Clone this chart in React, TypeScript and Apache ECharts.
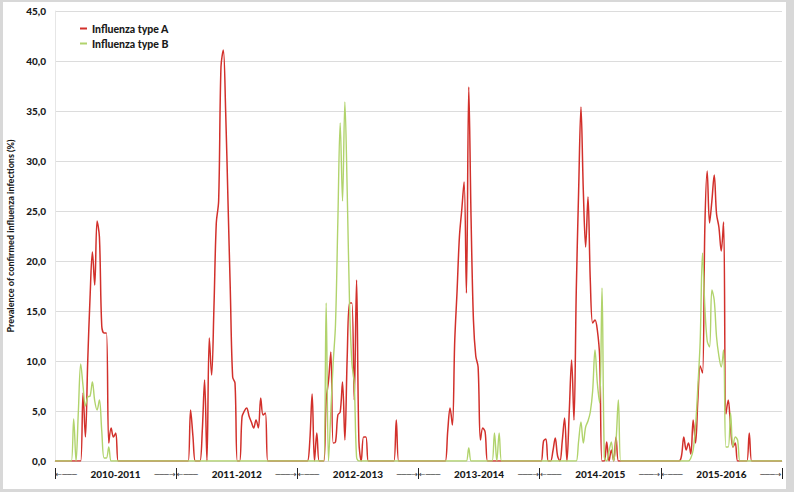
import React, { useEffect, useRef } from 'react';
import * as echarts from 'echarts';

const seasons = ['2010-2011', '2011-2012', '2012-2013', '2013-2014', '2014-2015', '2015-2016'];
const weeksPerSeason = 52;
const yMin = 0;
const yMax = 45;
const yStep = 5;

// Influenza type A, weekly prevalence (%) per season
const typeA_2010 = [0,0,0,0,0,0,0,0,0,0,0,0,6.8,2.4,10,16.4,20.9,17.6,24,22.4,13.5,12.8,12.8,1.8,3.3,2.4,2.8,0,0,0,0,0,0,0,0,0,0,0,0,0,0,0,0,0,0,0,0,0,0,0,0,0];
const typeA_2011 = [0,0,0,0,0,0,5.1,2.5,0,0,0,3,8.1,0,12.3,8.6,15.4,23.8,26,39.4,41.1,35,26,17,8.4,7.8,0,0,4.4,5,5.3,4.5,3.9,3.3,4.1,3.3,6.3,4.6,4.8,0,0,0,0,0,0,0,0,0,0,0,0,0];
const typeA_2012 = [0,0,0,0,0,2,6.7,0,2.8,0,0,0,6.1,8,10.9,1.8,1.9,4.6,4.9,7.9,2.1,10.4,15.8,15.8,6.1,18.1,2,0,2.4,2.4,0,0,0,0,0,0,0,0,0,0,0,0,4.1,0,0,0,0,0,0,0,0,0];
const typeA_2013 = [0,0,0,0,0,0,0,0,0,0,0,0,3,5.3,3.6,12,17,22.4,25.1,27.9,16.8,37.4,24.1,14.1,10.5,9.4,2.1,3.3,2.9,0,0,0,0,0,0,0,0,0,0,0,0,0,0,0,0,0,0,0,0,0,0,0];
const typeA_2014 = [0,2,2.2,0,0,1,2.3,0.5,0,2,4.3,0,5,10.1,4.1,17.1,27,35.4,27.1,21.4,26.4,18,13.8,14.1,13.1,10.4,0,0,1.9,0,1.1,0,2.4,0,0,0,0,0,0,0,0,0,0,0,0,0,0,0,0,0,0,0];
const typeA_2015 = [0,0,0,0,0,0,0,0,0.5,2.4,1.1,1.8,0.7,4.1,1.8,6.1,9.5,8.8,23.4,29,23.8,26,28.6,24.7,23.4,21,23.9,4.7,6.1,3.4,1.4,1.8,0,0,0,0,0,2.8,0,0,0,0,0,0,0,0,0,0,0,0,0,0];

// Influenza type B, weekly prevalence (%) per season
const typeB_2010 = [0,0,0,0,0,0,0,0,4.2,0,5,9.7,7.5,5.5,6.4,6.5,7.9,6,5.1,6.1,3,0.3,0.3,1.4,0,0,0,0,0,0,0,0,0,0,0,0,0,0,0,0,0,0,0,0,0,0,0,0,0,0,0,0];
const typeB_2011 = [0,0,0,0,0,0,0,0,0,0,0,0,0,0,0,0,0,0,0,0,0,0,0,0,0,0,0,0,0,0,0,0,0,0,0,0,0,0,0,0,0,0,0,0,0,0,0,0,0,0,0,0];
const typeB_2012 = [0,0,0,0,0,0,0,0,0,0,0,0,15.8,0,5,9.8,13.7,24,33.8,26,35.9,27,15.8,9.8,7.8,0.4,0,0,0,0,0,0,0,0,0,0,0,0,0,0,0,0,0,0,0,0,0,0,0,0,0,0];
const typeB_2013 = [0,0,0,0,0,0,0,0,0,0,0,0,0,0,0,0,0,0,0,0,0,1.3,0,0,0,0,0,0,0,0,0,0,2.8,0,2.8,0,0,0,0,0,0,0,0,0,0,0,0,0,0,0,0,0];
const typeB_2014 = [0,0,0,0,0,0,0,0,0,0,0,0,0,0,0,0,2,3.9,1.8,3.4,4,4.9,7,11.1,7.8,5.8,17.3,0.4,0,1,1.9,0,2,6.1,0,0,0,0,0,0,0,0,0,0,0,0,0,0,0,0,0,0];
const typeB_2015 = [0,0,0,0,0,0,0,0,0,0,0,0,0.3,1.1,3.4,7.4,12,20.8,15.4,12,11.4,17.1,16.1,12.4,10.5,9.4,11.1,1.4,1.4,4.8,1.4,2.4,2.1,0,0,0,0,0,0,0,0,0,0,0,0,0,0,0,0,0,0,0];

const typeA = [typeA_2010, typeA_2011, typeA_2012, typeA_2013, typeA_2014, typeA_2015];
const typeB = [typeB_2010, typeB_2011, typeB_2012, typeB_2013, typeB_2014, typeB_2015];

const RED = '#d2302b';
const GREEN = '#b1d36c';
const FONT = 'Lato, "Liberation Sans", sans-serif';

export default function App() {
  const ref = useRef<HTMLDivElement>(null);
  useEffect(() => {
    if (!ref.current) return;
    const chart = echarts.init(ref.current, null, { renderer: 'svg' });
    const weeks: string[] = [];
    seasons.forEach((s) => {
      for (let i = 0; i < weeksPerSeason; i++) weeks.push(`${s} W${i + 1}`);
    });
    const dataA = typeA.flat();
    const dataB = typeB.flat();
    chart.setOption({
      animation: false,
      textStyle: { fontFamily: FONT },
      grid: { left: 52, right: 4, top: 9, bottom: 28, containLabel: false, outerBoundsMode: 'none' },
      legend: {
        orient: 'vertical',
        left: 72,
        top: 16,
        itemWidth: 7,
        itemHeight: 2,
        itemGap: 4,
        icon: 'rect',
        textStyle: { fontFamily: FONT, fontWeight: 900, fontSize: 10.5, color: '#1a1a1a' },
        data: ['Influenza type A', 'Influenza type B'],
      },
      xAxis: [
        {
          type: 'category',
          data: weeks,
          boundaryGap: false,
          axisLine: { show: true, lineStyle: { color: '#d9d9d9' } },
          axisTick: { show: false },
          axisLabel: { show: false },
          splitLine: { show: false },
        },
        {
          type: 'category',
          data: seasons,
          position: 'bottom',
          offset: 7,
          boundaryGap: true,
          axisLine: { show: false },
          axisTick: { show: true, interval: 0, length: 11, lineStyle: { color: '#222', width: 1 } },
          splitLine: { show: false },
          axisLabel: {
            interval: 0,
            margin: 1,
            formatter: (v: string) => `{a|\u2190\u2500\u2500\u2500}{t|${v}}{b|\u2500\u2500\u2500\u2192}`,
            rich: {
              a: { width: 37, align: 'left', fontFamily: '"DejaVu Sans"', fontSize: 8, color: '#444' },
              t: { width: 46, align: 'center', fontFamily: FONT, fontWeight: 900, fontSize: 10, color: '#1a1a1a' },
              b: { width: 37, align: 'right', fontFamily: '"DejaVu Sans"', fontSize: 8, color: '#444' },
            },
          },
        },
      ],
      yAxis: {
        type: 'value',
        min: yMin,
        max: yMax,
        interval: yStep,
        name: 'Prevalence of confirmed influenza infections (%)',
        nameLocation: 'middle',
        nameGap: 40,
        nameTextStyle: { fontFamily: FONT, fontWeight: 900, fontSize: 9, color: '#1a1a1a' },
        axisLine: { show: true, lineStyle: { color: '#e6e6e6' } },
        axisTick: { show: false },
        axisLabel: {
          margin: 9,
          fontFamily: FONT,
          fontWeight: 900,
          fontSize: 10,
          color: '#1a1a1a',
          formatter: (v: number) => v.toFixed(1).replace('.', ','),
        },
        splitLine: { show: true, lineStyle: { color: '#dcdcdc', width: 1 } },
      },
      series: [
        {
          name: 'Influenza type A',
          type: 'line',
          data: dataA,
          smooth: 0.35,
          showSymbol: false,
          color: RED,
          lineStyle: { color: RED, width: 1.5 },
        },
        {
          name: 'Influenza type B',
          type: 'line',
          data: dataB,
          smooth: 0.35,
          showSymbol: false,
          color: GREEN,
          lineStyle: { color: GREEN, width: 1.4 },
        },
      ],
    });
    return () => chart.dispose();
  }, []);
  return (
    <div
      style={{
        position: 'fixed',
        left: 0,
        top: 0,
        width: 794,
        height: 492,
        boxSizing: 'border-box',
        borderStyle: 'solid',
        borderColor: '#d8d8d8',
        borderWidth: '2px 8px 3px 3px',
        background: '#fff',
      }}
    >
      <div ref={ref} style={{ width: '100%', height: '100%' }} />
    </div>
  );
}
